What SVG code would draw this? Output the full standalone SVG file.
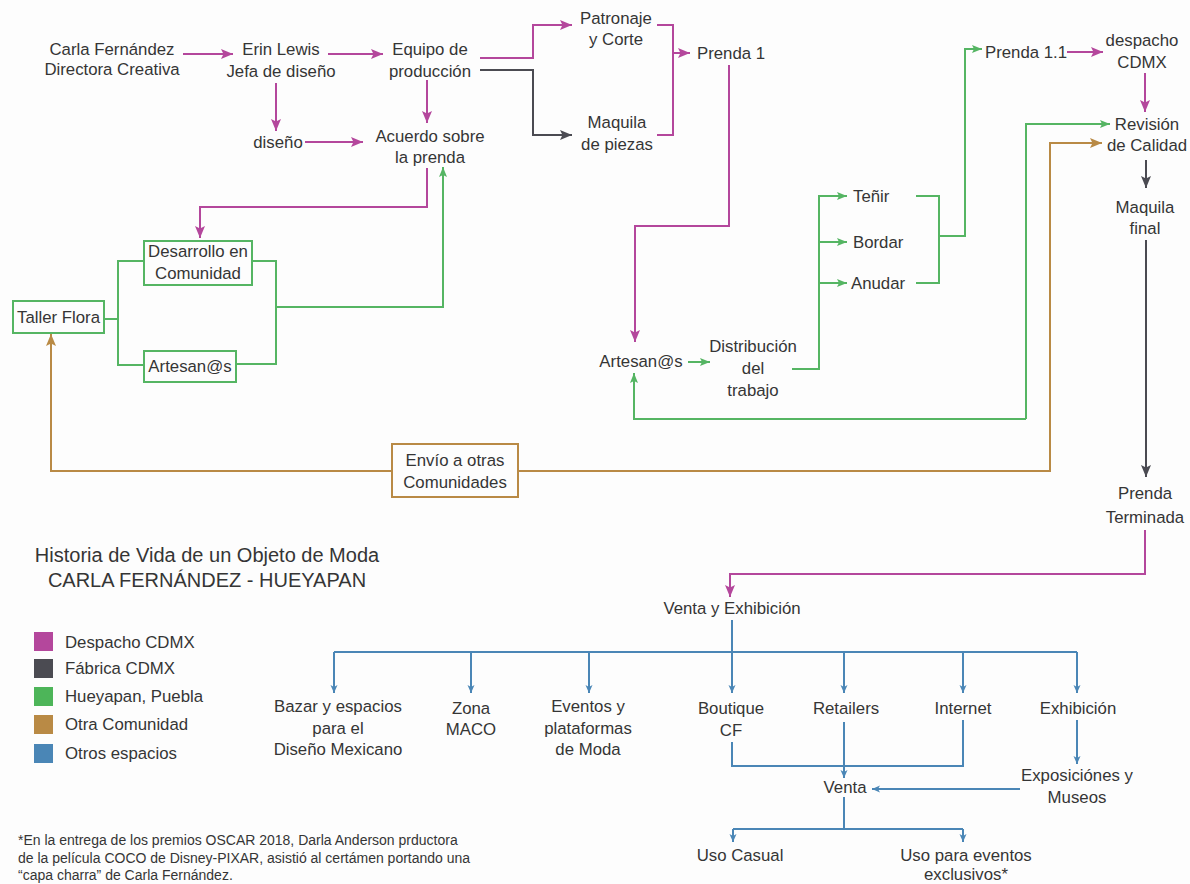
<svg xmlns="http://www.w3.org/2000/svg" width="1190" height="884" viewBox="0 0 1190 884">
  <style>
    text { font-family: "Liberation Sans", Arial, sans-serif; font-size: 16.8px; fill: #353535; }
    .c { text-anchor: middle; }
    .title { font-size: 20px; }
    .note { font-size: 14px; }
    .ln { fill: none; stroke-width: 2; }
    .mag { stroke: #b4479c; }
    .gry { stroke: #4b4b52; }
    .grn { stroke: #55b563; }
    .brn { stroke: #b98a45; }
    .blu { stroke: #4a86b6; }
    .box { fill: none; stroke-width: 2; }
  </style>
  <defs>
    <marker id="aMag" markerUnits="userSpaceOnUse" markerWidth="13" markerHeight="11" refX="12" refY="5.5" orient="auto">
      <path d="M0,0.5 L12,5.5 L0,10.5 L2.5,5.5 Z" fill="#b4479c"/>
    </marker>
    <marker id="aGry" markerUnits="userSpaceOnUse" markerWidth="13" markerHeight="11" refX="12" refY="5.5" orient="auto">
      <path d="M0,0.5 L12,5.5 L0,10.5 L2.5,5.5 Z" fill="#4b4b52"/>
    </marker>
    <marker id="aGrn" markerUnits="userSpaceOnUse" markerWidth="11" markerHeight="10" refX="10" refY="5" orient="auto">
      <path d="M0,1 L10,5 L0,9 L2,5 Z" fill="#55b563"/>
    </marker>
    <marker id="aBrn" markerUnits="userSpaceOnUse" markerWidth="13" markerHeight="11" refX="12" refY="5.5" orient="auto">
      <path d="M0,0.5 L12,5.5 L0,10.5 L2.5,5.5 Z" fill="#b98a45"/>
    </marker>
    <marker id="aBlu" markerUnits="userSpaceOnUse" markerWidth="9" markerHeight="8" refX="8" refY="4" orient="auto">
      <path d="M0,0.5 L8,4 L0,7.5 L2,4 Z" fill="#4a86b6"/>
    </marker>
  </defs>

  <rect width="1190" height="884" fill="#fdfdfd"/>

  <!-- connectors -->
  <g id="connectors">
    <!-- Despacho CDMX (magenta) -->
    <path class="ln mag" d="M183,54 H233" marker-end="url(#aMag)"/>
    <path class="ln mag" d="M328,54 H383" marker-end="url(#aMag)"/>
    <path class="ln mag" d="M276,83 V131" marker-end="url(#aMag)"/>
    <path class="ln mag" d="M305,142 H363" marker-end="url(#aMag)"/>
    <path class="ln mag" d="M427,80 V123" marker-end="url(#aMag)"/>
    <path class="ln mag" d="M480,58 H533 V25 H572" marker-end="url(#aMag)"/>
    <path class="ln mag" d="M657,25 H673 V135 H657"/>
    <path class="ln mag" d="M673,53 H690" marker-end="url(#aMag)"/>
    <path class="ln mag" d="M729,65 V226 H635 V342" marker-end="url(#aMag)"/>
    <path class="ln mag" d="M427,168 V207 H200 V238" marker-end="url(#aMag)"/>
    <path class="ln mag" d="M1067,52 H1103" marker-end="url(#aMag)"/>
    <path class="ln mag" d="M1145,73 V112" marker-end="url(#aMag)"/>
    <path class="ln mag" d="M1145,530 V574 H730 V597" marker-end="url(#aMag)"/>

    <!-- Fábrica CDMX (gray) -->
    <path class="ln gry" d="M480,70 H533 V135 H572" marker-end="url(#aGry)"/>
    <path class="ln gry" d="M1146,160 V188" marker-end="url(#aGry)"/>
    <path class="ln gry" d="M1146,240 V477" marker-end="url(#aGry)"/>

    <!-- Hueyapan, Puebla (green) -->
    <path class="ln grn" d="M104,319 H118"/>
    <path class="ln grn" d="M144,261 H118 V365 H144"/>
    <path class="ln grn" d="M252,261 H276 V364 H236"/>
    <path class="ln grn" d="M276,307 H443 V167" marker-end="url(#aGrn)"/>
    <path class="ln grn" d="M688,362 H710" marker-end="url(#aGrn)"/>
    <path class="ln grn" d="M792,369 H819 V196 H847" marker-end="url(#aGrn)"/>
    <path class="ln grn" d="M819,242 H847" marker-end="url(#aGrn)"/>
    <path class="ln grn" d="M819,283 H847" marker-end="url(#aGrn)"/>
    <path class="ln grn" d="M916,196 H939 V283 H916"/>
    <path class="ln grn" d="M939,236 H965 V49 H982" marker-end="url(#aGrn)"/>
    <path class="ln grn" d="M1026,419 H634 V373" marker-end="url(#aGrn)"/>
    <path class="ln grn" d="M1026,419 V124 H1110" marker-end="url(#aGrn)"/>

    <!-- Otra Comunidad (brown) -->
    <path class="ln brn" d="M392,471 H51 V334" marker-end="url(#aBrn)"/>
    <path class="ln brn" d="M518,471 H1050 V143 H1102" marker-end="url(#aBrn)"/>

    <!-- Otros espacios (blue) -->
    <path class="ln blu" d="M732,620 V693" marker-end="url(#aBlu)"/>
    <path class="ln blu" d="M334,652 H1077"/>
    <path class="ln blu" d="M334,652 V693" marker-end="url(#aBlu)"/>
    <path class="ln blu" d="M471,652 V693" marker-end="url(#aBlu)"/>
    <path class="ln blu" d="M589,652 V693" marker-end="url(#aBlu)"/>
    <path class="ln blu" d="M844,652 V693" marker-end="url(#aBlu)"/>
    <path class="ln blu" d="M963,652 V693" marker-end="url(#aBlu)"/>
    <path class="ln blu" d="M1077,652 V693" marker-end="url(#aBlu)"/>
    <path class="ln blu" d="M732,742 V766 H963 V720"/>
    <path class="ln blu" d="M844,722 V778" marker-end="url(#aBlu)"/>
    <path class="ln blu" d="M1020,789 H872" marker-end="url(#aBlu)"/>
    <path class="ln blu" d="M1077,720 V764" marker-end="url(#aBlu)"/>
    <path class="ln blu" d="M844,797 V829"/>
    <path class="ln blu" d="M733,829 H963"/>
    <path class="ln blu" d="M733,829 V842" marker-end="url(#aBlu)"/>
    <path class="ln blu" d="M963,829 V842" marker-end="url(#aBlu)"/>
  </g>

  <!-- nodes -->
  <g id="carla"><text class="c" x="112" y="55">Carla Fernández</text><text class="c" x="112" y="75">Directora Creativa</text></g>
  <g id="erin"><text class="c" x="281" y="55">Erin Lewis</text><text class="c" x="281" y="77">Jefa de diseño</text></g>
  <g id="equipo"><text class="c" x="430" y="55">Equipo de</text><text class="c" x="430" y="77">producción</text></g>
  <g id="diseno"><text class="c" x="278" y="148">diseño</text></g>
  <g id="acuerdo"><text class="c" x="430" y="142">Acuerdo sobre</text><text class="c" x="430" y="163">la prenda</text></g>
  <g id="patronaje"><text class="c" x="616" y="24">Patronaje</text><text class="c" x="616" y="45">y Corte</text></g>
  <g id="maquila-piezas"><text class="c" x="617" y="128">Maquila</text><text class="c" x="617" y="150">de piezas</text></g>
  <g id="prenda1"><text class="c" x="731" y="59">Prenda 1</text></g>

  <g id="desarrollo"><rect class="box grn" x="144" y="241" width="108" height="44"/><text class="c" x="198" y="257">Desarrollo en</text><text class="c" x="198" y="279">Comunidad</text></g>
  <g id="taller-flora"><rect class="box grn" x="13" y="301" width="91" height="32"/><text class="c" x="58.5" y="323">Taller Flora</text></g>
  <g id="artesanos-taller"><rect class="box grn" x="144" y="351" width="92" height="31"/><text class="c" x="190" y="372">Artesan@s</text></g>

  <g id="artesanos"><text class="c" x="641" y="367">Artesan@s</text></g>
  <g id="distribucion"><text class="c" x="753" y="352">Distribución</text><text class="c" x="753" y="374">del</text><text class="c" x="753" y="396">trabajo</text></g>
  <g id="tenir"><text x="853" y="202">Teñir</text></g>
  <g id="bordar"><text x="853" y="248">Bordar</text></g>
  <g id="anudar"><text x="851" y="289">Anudar</text></g>
  <g id="prenda11"><text x="985" y="58">Prenda 1.1</text></g>
  <g id="despacho"><text class="c" x="1142" y="46">despacho</text><text class="c" x="1142" y="68">CDMX</text></g>
  <g id="revision"><text class="c" x="1147" y="130">Revisión</text><text class="c" x="1147" y="151">de Calidad</text></g>
  <g id="maquila-final"><text class="c" x="1145" y="213">Maquila</text><text class="c" x="1145" y="234">final</text></g>
  <g id="prenda-terminada"><text class="c" x="1145" y="499">Prenda</text><text class="c" x="1145" y="523">Terminada</text></g>
  <g id="envio"><rect class="box brn" x="392" y="444" width="126" height="53"/><text class="c" x="455" y="466">Envío a otras</text><text class="c" x="455" y="488">Comunidades</text></g>

  <g id="venta-exhibicion"><text class="c" x="732" y="614">Venta y Exhibición</text></g>
  <g id="bazar"><text class="c" x="338" y="712">Bazar y espacios</text><text class="c" x="338" y="734">para el</text><text class="c" x="338" y="755">Diseño Mexicano</text></g>
  <g id="zona-maco"><text class="c" x="471" y="714">Zona</text><text class="c" x="471" y="735">MACO</text></g>
  <g id="eventos"><text class="c" x="588" y="712">Eventos y</text><text class="c" x="588" y="734">plataformas</text><text class="c" x="588" y="755">de Moda</text></g>
  <g id="boutique"><text class="c" x="731" y="714">Boutique</text><text class="c" x="731" y="736">CF</text></g>
  <g id="retailers"><text class="c" x="846" y="714">Retailers</text></g>
  <g id="internet"><text class="c" x="963" y="714">Internet</text></g>
  <g id="exhibicion"><text class="c" x="1078" y="714">Exhibición</text></g>
  <g id="venta"><text class="c" x="845" y="793">Venta</text></g>
  <g id="exposiciones"><text class="c" x="1077" y="781">Exposiciónes y</text><text class="c" x="1077" y="803">Museos</text></g>
  <g id="uso-casual"><text class="c" x="740" y="861">Uso Casual</text></g>
  <g id="uso-eventos"><text class="c" x="966" y="861">Uso para eventos</text><text class="c" x="966" y="880">exclusivos*</text></g>

  <!-- title -->
  <g id="title">
    <text class="c title" x="207" y="562">Historia de Vida de un Objeto de Moda</text>
    <text class="c title" x="207" y="587">CARLA FERNÁNDEZ - HUEYAPAN</text>
  </g>

  <!-- legend -->
  <g id="legend">
    <rect x="34" y="632" width="19" height="19" fill="#b4479c"/><text x="65" y="648">Despacho CDMX</text>
    <rect x="34" y="659" width="19" height="19" fill="#4b4b52"/><text x="65" y="674">Fábrica CDMX</text>
    <rect x="34" y="687" width="19" height="19" fill="#4db559"/><text x="65" y="702">Hueyapan, Puebla</text>
    <rect x="34" y="715" width="19" height="19" fill="#b98a45"/><text x="65" y="730">Otra Comunidad</text>
    <rect x="34" y="744" width="19" height="19" fill="#4a86b6"/><text x="65" y="759">Otros espacios</text>
  </g>

  <!-- footnote -->
  <g id="footnote">
    <text class="note" x="18" y="845">*En la entrega de los premios OSCAR 2018, Darla Anderson prductora</text>
    <text class="note" x="18" y="863">de la película COCO de Disney-PIXAR, asistió al certámen portando una</text>
    <text class="note" x="18" y="880">“capa charra” de Carla Fernández.</text>
  </g>
</svg>
